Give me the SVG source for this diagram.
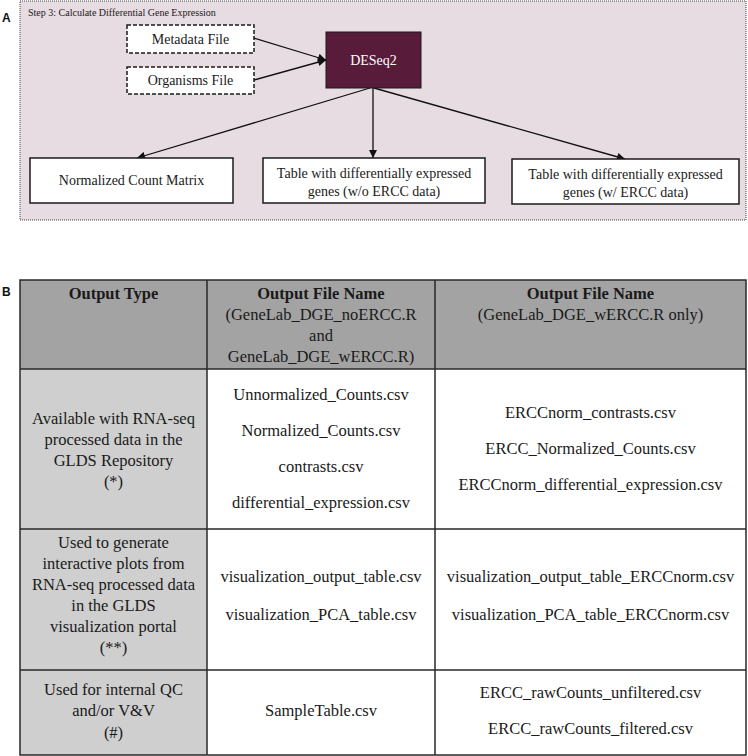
<svg xmlns="http://www.w3.org/2000/svg" width="748" height="756" viewBox="0 0 748 756">
<style>
.t{font-family:"Liberation Serif","Times New Roman",serif;fill:#1a1a1a;text-anchor:middle}
.s14{font-size:14px}
.s17{font-size:16.5px}
.b{font-weight:bold}
.lab{font-family:"Liberation Sans",Arial,sans-serif;font-weight:bold;font-size:12px;fill:#111}
.box{fill:#fff;stroke:#1a1a1a;stroke-width:1.5}
.dash{fill:#fff;stroke:#1a1a1a;stroke-width:1.5;stroke-dasharray:4 2}
.conn{stroke:#111;stroke-width:1.3;fill:none;marker-end:url(#ah)}
.grid{stroke:#2a2a2a;stroke-width:1.5;fill:none}
</style>
<defs>
<marker id="ah" viewBox="0 0 10 10" refX="10" refY="5" markerWidth="10" markerHeight="8" markerUnits="userSpaceOnUse" orient="auto">
<path d="M0,0 L10,5 L0,10 z" fill="#111"/>
</marker>
</defs>
<rect width="748" height="756" fill="#fff"/>

<g id="panelA">
<text class="lab" x="2" y="22">A</text>
<rect x="20" y="1" width="726" height="219" fill="#e7dce2" stroke="#444" stroke-width="1" stroke-dasharray="1 1"/>
<text class="t" x="28" y="16" style="font-size:10px;text-anchor:start">Step 3: Calculate Differential Gene Expression</text>
</g>

<g id="connectors">
<line class="conn" x1="254" y1="38" x2="326" y2="60"/>
<line class="conn" x1="254" y1="80" x2="326" y2="60"/>
<line class="conn" x1="370" y1="88" x2="137" y2="158"/>
<line class="conn" x1="373" y1="88" x2="373" y2="158"/>
<line class="conn" x1="374" y1="88" x2="625" y2="159"/>
</g>

<g id="metadata">
<rect class="dash" x="127" y="25" width="127" height="28"/>
<text class="t s14" x="190.5" y="44">Metadata File</text>
</g>
<g id="organisms">
<rect class="dash" x="127" y="67" width="127" height="27"/>
<text class="t s14" x="190.5" y="85">Organisms File</text>
</g>
<g id="deseq2">
<rect x="326" y="32" width="95" height="56" fill="#581b39" stroke="#1a1a1a" stroke-width="1"/>
<text class="t s14" x="373.5" y="65" style="fill:#fff">DESeq2</text>
</g>
<g id="normcount">
<rect class="box" x="30" y="158" width="203" height="45"/>
<text class="t s14" x="131.5" y="185">Normalized Count Matrix</text>
</g>
<g id="tablenoercc">
<rect class="box" x="263" y="158" width="222" height="45"/>
<text class="t s14" x="374" y="178">Table with differentially expressed</text>
<text class="t s14" x="374" y="196">genes (w/o ERCC data)</text>
</g>
<g id="tablewercc">
<rect class="box" x="512" y="159" width="227" height="45"/>
<text class="t s14" x="625.5" y="178.5">Table with differentially expressed</text>
<text class="t s14" x="625.5" y="196.5">genes (w/ ERCC data)</text>
</g>

<g id="panelB">
<text class="lab" x="2" y="296">B</text>
<rect x="20" y="280" width="726" height="89" fill="#a3a3a3"/>
<rect x="20" y="369" width="187" height="386" fill="#cfcfcf"/>
<path class="grid" d="M20,280 H746 V755 H20 Z M207,280 V755 M435,280 V755 M20,369 H746 M20,529 H746 M20,670 H746"/>

<text class="t s17 b" x="113.5" y="299">Output Type</text>
<text class="t s17 b" x="321" y="299">Output File Name</text>
<text class="t s17" x="321" y="320">(GeneLab_DGE_noERCC.R</text>
<text class="t s17" x="321" y="341">and</text>
<text class="t s17" x="321" y="362">GeneLab_DGE_wERCC.R)</text>
<text class="t s17 b" x="590.5" y="299">Output File Name</text>
<text class="t s17" x="590.5" y="320">(GeneLab_DGE_wERCC.R only)</text>

<text class="t s17" x="113.5" y="424">Available with RNA-seq</text>
<text class="t s17" x="113.5" y="445">processed data in the</text>
<text class="t s17" x="113.5" y="466">GLDS Repository</text>
<text class="t s17" x="113.5" y="487">(*)</text>
<text class="t s17" x="321" y="400">Unnormalized_Counts.csv</text>
<text class="t s17" x="321" y="436">Normalized_Counts.csv</text>
<text class="t s17" x="321" y="472">contrasts.csv</text>
<text class="t s17" x="321" y="508">differential_expression.csv</text>
<text class="t s17" x="590.5" y="418">ERCCnorm_contrasts.csv</text>
<text class="t s17" x="590.5" y="454">ERCC_Normalized_Counts.csv</text>
<text class="t s17" x="590.5" y="490">ERCCnorm_differential_expression.csv</text>

<text class="t s17" x="113.5" y="548">Used to generate</text>
<text class="t s17" x="113.5" y="569">interactive plots from</text>
<text class="t s17" x="113.5" y="590">RNA-seq processed data</text>
<text class="t s17" x="113.5" y="611">in the GLDS</text>
<text class="t s17" x="113.5" y="632">visualization portal</text>
<text class="t s17" x="113.5" y="653">(**)</text>
<text class="t s17" x="321" y="582">visualization_output_table.csv</text>
<text class="t s17" x="321" y="620">visualization_PCA_table.csv</text>
<text class="t s17" x="590.5" y="582">visualization_output_table_ERCCnorm.csv</text>
<text class="t s17" x="590.5" y="620">visualization_PCA_table_ERCCnorm.csv</text>

<text class="t s17" x="113.5" y="695">Used for internal QC</text>
<text class="t s17" x="113.5" y="716">and/or V&amp;V</text>
<text class="t s17" x="113.5" y="738">(#)</text>
<text class="t s17" x="321" y="716">SampleTable.csv</text>
<text class="t s17" x="590.5" y="698">ERCC_rawCounts_unfiltered.csv</text>
<text class="t s17" x="590.5" y="734">ERCC_rawCounts_filtered.csv</text>
</g>
</svg>
